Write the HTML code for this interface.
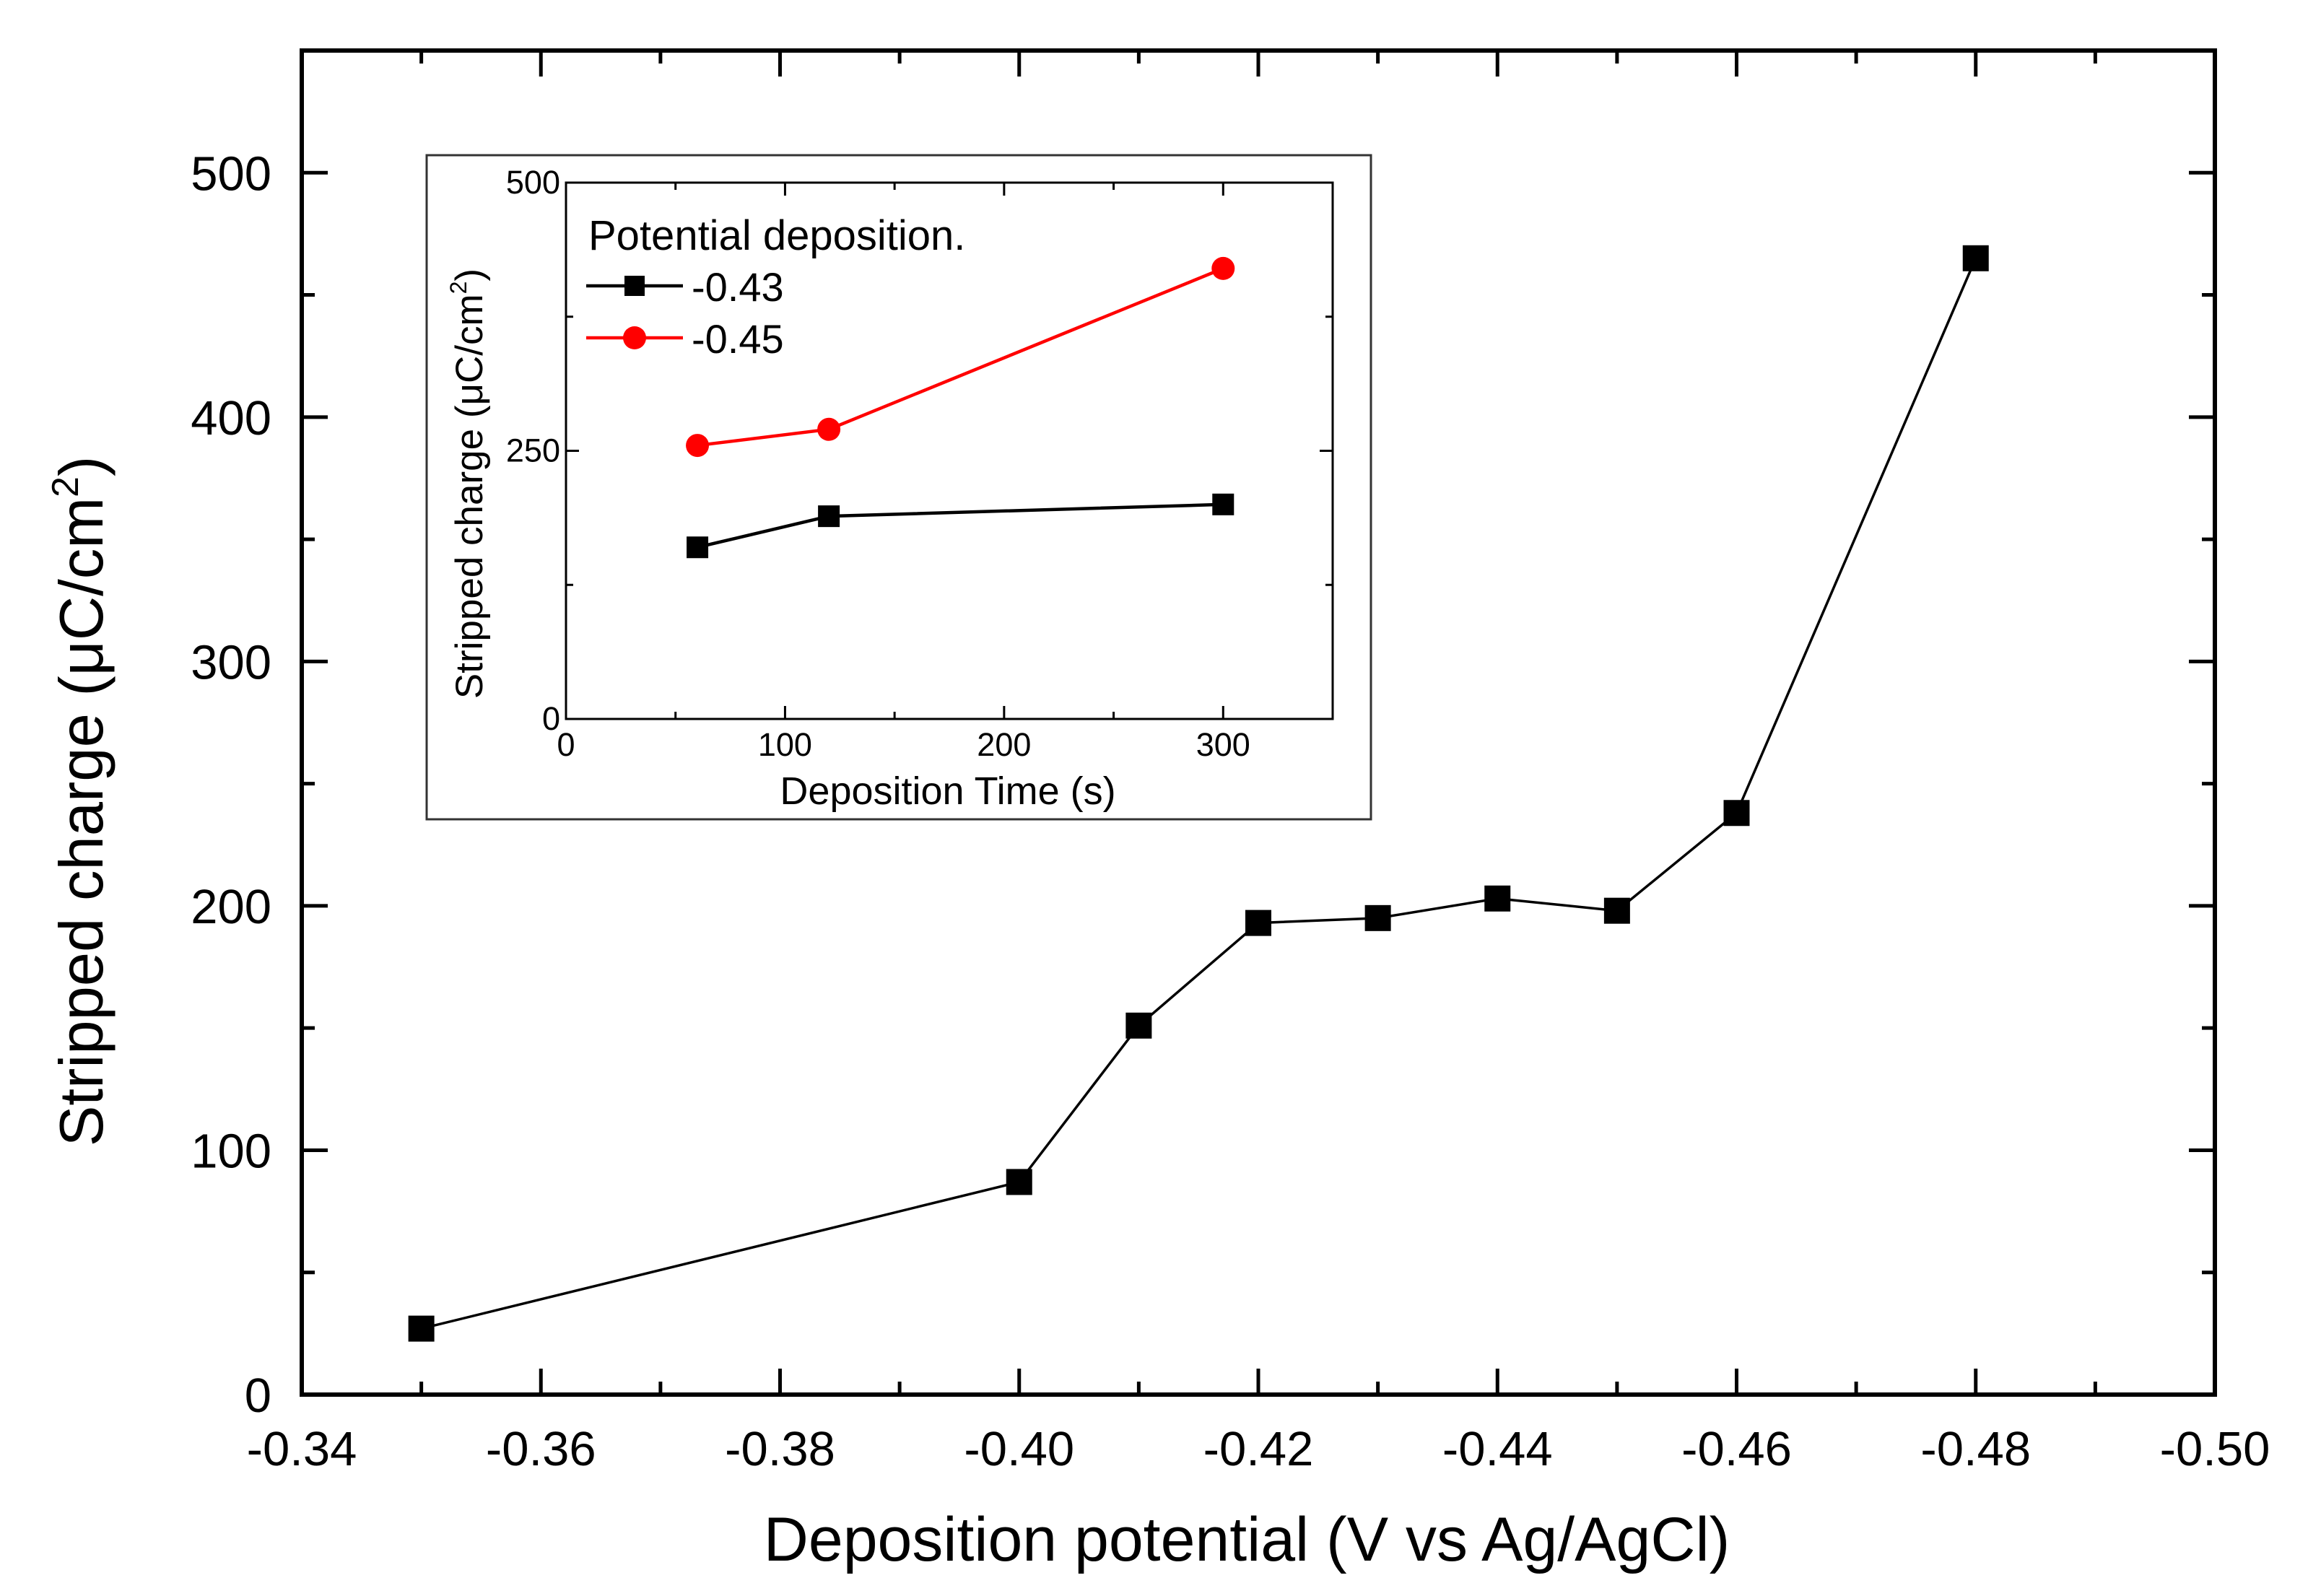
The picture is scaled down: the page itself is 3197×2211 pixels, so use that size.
<!DOCTYPE html>
<html><head><meta charset="utf-8"><style>
html,body{margin:0;padding:0;background:#fff}
svg{display:block;font-family:"Liberation Sans",Arial,sans-serif}
</style></head><body>
<svg id="chart" width="3197" height="2211" viewBox="0 0 3197 2211" xmlns="http://www.w3.org/2000/svg">
<rect width="3197" height="2211" fill="#fff"/>
</svg>
<script>
const mainX = [-0.35,-0.40,-0.41,-0.42,-0.43,-0.44,-0.45,-0.46,-0.48];
const mainY = [27,87,151,193,195,203,198,238,465];
const mainXTicks = [-0.34,-0.36,-0.38,-0.40,-0.42,-0.44,-0.46,-0.48,-0.50];
const mainXTickLabels = ["-0.34","-0.36","-0.38","-0.40","-0.42","-0.44","-0.46","-0.48","-0.50"];
const mainYTicks = [0,100,200,300,400,500];
const insetTimes = [60,120,300];
const insetSeriesA = [160,189,200];
const insetSeriesB = [255,270,420];
const insetXTicks = [0,100,200,300];
const insetYTicks = [0,250,500];

const NS="http://www.w3.org/2000/svg";
const svg=document.getElementById('chart');
function mk(tag,attrs,parent){const e=document.createElementNS(NS,tag);for(const k in attrs)e.setAttribute(k,attrs[k]);(parent||svg).appendChild(e);return e;}

const L=418,R=3068,T=70,B=1932;
const xs=v=>L+(v-(-0.34))/(-0.50-(-0.34))*(R-L);
const ys=v=>B-(v/550)*(B-T);
const g=mk('g',{});


for(let i=0;i<=16;i++){const v=-0.34-i*0.01;const x=xs(v);const len=(i%2===0)?36:18;
 mk('line',{x1:x,y1:B,x2:x,y2:B-len,stroke:'#000','stroke-width':5},g);
 mk('line',{x1:x,y1:T,x2:x,y2:T+len,stroke:'#000','stroke-width':5},g);}
for(let v=0;v<=550;v+=50){const y=ys(v);const len=(v%100===0)?36:18;
 mk('line',{x1:L,y1:y,x2:L+len,y2:y,stroke:'#000','stroke-width':5},g);
 mk('line',{x1:R,y1:y,x2:R-len,y2:y,stroke:'#000','stroke-width':5},g);}
const frame=mk('rect',{x:L,y:T,width:R-L,height:B-T,fill:'none',stroke:'#000','stroke-width':6},g);


mainXTicks.forEach((v,i)=>{const t=mk('text',{x:xs(v),y:2030,'font-size':67,'text-anchor':'middle'},g);t.textContent=mainXTickLabels[i];
 
 });
mainYTicks.forEach(v=>{const t=mk('text',{x:376,y:ys(v)+24,'font-size':67,'text-anchor':'end'},g);t.textContent=String(v);
 
 });
const xt=mk('text',{x:1727,y:2162,'font-size':86,'text-anchor':'middle'},g);xt.textContent='Deposition potential (V vs Ag/AgCl)';


const yt=mk('text',{x:0,y:0,'font-size':85,'text-anchor':'middle',transform:'translate(142,1110) rotate(-90)'},g);
yt.innerHTML='Stripped charge (\u03BCC/cm<tspan dy="-34" font-size="52">2</tspan><tspan dy="34">)</tspan>';


const line=mk('polyline',{points:mainX.map((v,i)=>xs(v)+','+ys(mainY[i])).join(' '),fill:'none',stroke:'#000','stroke-width':3.5},g);


mainX.forEach((v,i)=>{const m=mk('rect',{x:xs(v)-18,y:ys(mainY[i])-18,width:36,height:36,fill:'#000'},g);
 
 });

const ig=mk('g',{});


const ibox=mk('rect',{x:591,y:215,width:1308,height:920,fill:'#fff',stroke:'#333','stroke-width':3},ig);


const iL=784,iR=1846,iT=253,iB=996;
const ixs=v=>iL+v/350*(iR-iL);
const iys=v=>iB-v/500*(iB-iT);
for(let v=0;v<=350;v+=50){const x=ixs(v);const len=(v%100===0)?18:10;
 mk('line',{x1:x,y1:iB,x2:x,y2:iB-len,stroke:'#000','stroke-width':3},ig);
 mk('line',{x1:x,y1:iT,x2:x,y2:iT+len,stroke:'#000','stroke-width':3},ig);}
for(let v=0;v<=500;v+=125){const y=iys(v);const len=(v%250===0)?18:10;
 mk('line',{x1:iL,y1:y,x2:iL+len,y2:y,stroke:'#000','stroke-width':3},ig);
 mk('line',{x1:iR,y1:y,x2:iR-len,y2:y,stroke:'#000','stroke-width':3},ig);}
mk('rect',{x:iL,y:iT,width:iR-iL,height:iB-iT,fill:'none',stroke:'#000','stroke-width':3},ig);
insetXTicks.forEach(v=>{const t=mk('text',{x:ixs(v),y:1047,'font-size':45,'text-anchor':'middle'},ig);t.textContent=String(v);
 
 });
insetYTicks.forEach(v=>{const t=mk('text',{x:iL-8,y:iys(v)+15,'font-size':45,'text-anchor':'end'},ig);t.textContent=String(v);
 
 });
const ixt=mk('text',{x:1313,y:1114,'font-size':54,'text-anchor':'middle'},ig);ixt.textContent='Deposition Time (s)';


const iyt=mk('text',{x:0,y:0,'font-size':53,'text-anchor':'middle',transform:'translate(668,670) rotate(-90)'},ig);
iyt.innerHTML='Stripped charge (\u03BCC/cm<tspan dy="-22" font-size="32">2</tspan><tspan dy="22">)</tspan>';


const la=mk('polyline',{points:insetTimes.map((v,i)=>ixs(v)+','+iys(insetSeriesA[i])).join(' '),fill:'none',stroke:'#000','stroke-width':4.5},ig);


insetTimes.forEach((v,i)=>{const m=mk('rect',{x:ixs(v)-15,y:iys(insetSeriesA[i])-15,width:30,height:30,fill:'#000'},ig);
 
 });
const lb=mk('polyline',{points:insetTimes.map((v,i)=>ixs(v)+','+iys(insetSeriesB[i])).join(' '),fill:'none',stroke:'#f00','stroke-width':4.5},ig);


insetTimes.forEach((v,i)=>{const m=mk('circle',{cx:ixs(v),cy:iys(insetSeriesB[i]),r:16,fill:'#f00'},ig);
 
 });
const lt=mk('text',{x:815,y:346,'font-size':58},ig);lt.textContent='Potential deposition.';


const le1=mk('g',{},ig);


mk('line',{x1:812,y1:396,x2:946,y2:396,stroke:'#000','stroke-width':4.5},le1);
mk('rect',{x:865,y:382,width:28,height:28,fill:'#000'},le1);
mk('text',{x:958,y:417,'font-size':56},le1).textContent='-0.43';
const le2=mk('g',{},ig);


mk('line',{x1:812,y1:468,x2:946,y2:468,stroke:'#f00','stroke-width':4.5},le2);
mk('circle',{cx:879,cy:468,r:16,fill:'#f00'},le2);
mk('text',{x:958,y:489,'font-size':56},le2).textContent='-0.45';
</script>
</body></html>
